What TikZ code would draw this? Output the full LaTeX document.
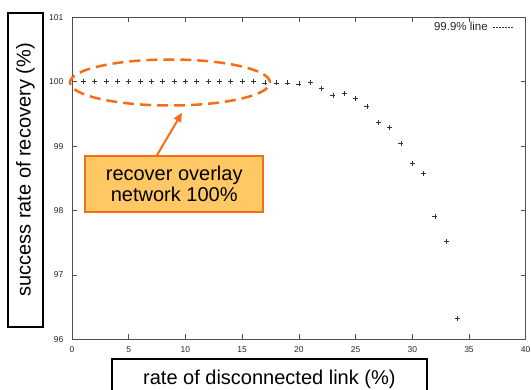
\documentclass[tikz,border=0pt]{standalone}
\usepackage{fontspec}
\setmainfont{Liberation Sans}
\usetikzlibrary{shapes.geometric,arrows.meta,calc}
\definecolor{orangeline}{RGB}{245,110,20}
\definecolor{orangefill}{RGB}{255,200,100}
\definecolor{framegray}{RGB}{80,80,80}
\begin{document}
\begin{tikzpicture}[x=1pt,y=-1pt,
  ticklab/.style={font=\fontsize{8.5}{9}\selectfont, text=black!85, inner sep=0pt},
  leglab/.style={font=\fontsize{11.5}{12}\selectfont, text=black!85, inner sep=0pt},
  tickline/.style={framegray, line width=0.7pt},
  datapt/.style={black!80, line width=0.6pt},
  labelbox/.style={draw=black, line width=2pt, font=\fontsize{20}{24}\selectfont, inner sep=0pt},
  callout/.style={draw=orangeline, fill=orangefill, line width=2pt, align=center,
    font=\fontsize{20}{21}\selectfont, inner sep=0pt},
  calloutarrow/.style={orangeline, line width=2pt, -{Triangle[length=9pt,width=8pt]}}]
\useasboundingbox (0,0) rectangle (531,390);
% frame
\draw[framegray, line width=0.8pt] (72,17.3) rectangle (525.7,339.3);
% x ticks
\foreach \v in {0,5,...,40} {
  \pgfmathsetmacro\px{72+11.3425*\v}
  \draw[tickline] (\px,339.3) -- ++(0,-5);
  \draw[tickline] (\px,17.3) -- ++(0,5);
  \node[ticklab, anchor=north] at (\px,346.5) {\v};
}
% y ticks
\foreach \v in {96,...,101} {
  \pgfmathsetmacro\py{339.3-64.4*(\v-96)}
  \draw[tickline] (72,\py) -- ++(5,0);
  \draw[tickline] (525.7,\py) -- ++(-5,0);
  \node[ticklab, anchor=east] at (63.5,\py) {\v};
}
% legend
\node[leglab, anchor=base east] (leg) at (488,31) {99.9\% line};
\coordinate (legA) at (493,27.5);
\coordinate (legB) at (513,27.5);
\draw[black!80, line width=0.5pt, dash pattern=on 2pt off 1pt] (legA) -- (legB);
% data points
\foreach \x/\y in {1/100,2/100,3/100,4/100,5/100,6/100,7/100,8/100,9/100,10/100,
  11/100,12/100,13/100,14/100,15/100,16/100,17/99.98,18/99.98,19/99.98,20/99.965,
  21/99.995,22/99.89,23/99.79,24/99.82,25/99.74,26/99.62,27/99.37,28/99.29,
  29/99.04,30/98.73,31/98.57,32/97.91,33/97.52,34/96.33} {
  \pgfmathsetmacro\px{72+11.3425*\x}
  \pgfmathsetmacro\py{339.3-64.4*(\y-96)}
  \draw[datapt] (\px-2.5,\py) -- ++(5,0) (\px,\py-2.5) -- ++(0,5);
}
% axis label boxes
\node[labelbox, rotate=90, minimum width=314.6pt, minimum height=34.4pt] (ylab) at (25.5,170) {success rate of recovery (\%)};
\node[labelbox, minimum width=315.3pt, minimum height=40pt, anchor=north west] (xlab) at (110.7,358.3) {rate of disconnected link (\%)};
% highlight ellipse
\node[ellipse, draw=orangeline, line width=2.5pt, dash pattern=on 11pt off 6pt,
  minimum width=200pt, minimum height=46pt, inner sep=0pt] (ell) at (170,82.5) {};
% callout
\node[callout, minimum width=178pt, minimum height=55.5pt] (note) at (174.2,183.9) {recover overlay\\network 100\%};
\coordinate (tail) at (157,160);
\draw[calloutarrow] (note.north -| tail) -- ([xshift=12pt,yshift=-6pt]ell.south);
\end{tikzpicture}
\end{document}
